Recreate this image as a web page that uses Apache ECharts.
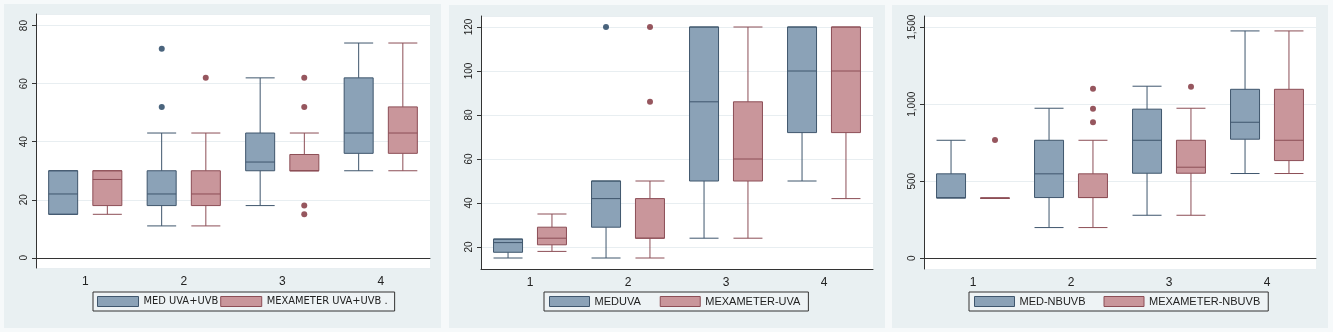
<!DOCTYPE html>
<html>
<head>
<meta charset="utf-8">
<title>MED vs Mexameter box plots</title>
<script src="https://cdn.jsdelivr.net/npm/echarts@6/dist/echarts.min.js"></script>
<style>
  html, body { margin: 0; padding: 0; background: #f6f9fa; }
  #main { width: 1333px; height: 332px; }
</style>
</head>
<body>
<div id="main"></div>
<script>
// categories on the x axis (same for all three panels)
var categories = ["1", "2", "3", "4"];

// box data: [min, Q1, median, Q3, max] per category
// panel 1 - UVA+UVB
var uvbMed = [[15, 15, 22, 30, 30], [11, 18, 22, 30, 43], [18, 30, 33, 43, 62], [30, 36, 43, 62, 74]];
var uvbMex = [[15, 18, 27, 30, 30], [11, 18, 22, 30, 43], [30, 30, 30, 35.6, 43], [30, 36, 43, 52, 74]];
var uvbMedOut = [[1, 72], [1, 52]];
var uvbMexOut = [[1, 62], [2, 62], [2, 52], [2, 18], [2, 15]];

// panel 2 - UVA
var uvaMed = [[15, 17.6, 22, 23.6, 23.6], [15, 29, 42, 50, 50], [24, 50, 86, 120, 120], [50, 72, 100, 120, 120]];
var uvaMex = [[18, 21, 24, 29, 35], [15, 24, 24, 42, 50], [24, 50, 60, 86, 120], [42, 72, 100, 120, 120]];
var uvaMedOut = [[1, 120]];
var uvaMexOut = [[1, 120], [1, 86]];

// panel 3 - NBUVB
var nbMed = [[392, 392, 392, 548, 766], [199, 394, 548, 766, 974], [279, 552, 766, 968, 1117], [550, 773, 883, 1097, 1476]];
var nbMex = [[390, 390, 390, 390, 390], [199, 394, 394, 548, 766], [279, 552, 591, 766, 974], [550, 634, 766, 1097, 1476]];
var nbMedOut = [];
var nbMexOut = [[0, 768], [1, 1100], [1, 970], [1, 883], [2, 1113]];

var names = [
  ["MED UVA+UVB", "MEXAMETER UVA+UVB ."],
  ["MEDUVA", "MEXAMETER-UVA"],
  ["MED-NBUVB", "MEXAMETER-NBUVB"]
];

var blue = { fill: "#8ba2b7", line: "#3f566d", dot: "#1d3d5c" };
var red = { fill: "#c9969b", line: "#8c4e56", dot: "#7c2c36" };
var fontMain = "'Liberation Sans', Arial, sans-serif";
var fontNarrow = "'Liberation Sans Narrow', 'DejaVu Sans Condensed', 'Liberation Sans', sans-serif";

function thousands(v) {
  return String(v).replace(/\B(?=(\d{3})+(?!\d))/g, ",");
}

var panels = [
  { grid: { left: 36, top: 14, width: 394, height: 254 }, min: -3.5, max: 84, split: 5,
    med: uvbMed, mex: uvbMex, medOut: uvbMedOut, mexOut: uvbMexOut,
    legend: { left: 93, itemWidth: 41, itemGap: 2, font: fontNarrow, padding: [4, 7, 4, 4] } },
  { grid: { left: 481, top: 16, width: 392, height: 253 }, min: 10, max: 125, split: 5,
    med: uvaMed, mex: uvaMex, medOut: uvaMedOut, mexOut: uvaMexOut,
    legend: { left: 544, itemWidth: 40, itemGap: 19, font: fontMain, padding: [4, 8, 4, 5] } },
  { grid: { left: 924, top: 16, width: 392, height: 253 }, min: -70, max: 1573, split: 3,
    med: nbMed, mex: nbMex, medOut: nbMedOut, mexOut: nbMexOut,
    legend: { left: 969, itemWidth: 40, itemGap: 18, font: fontMain, padding: [4, 8, 4, 5] } }
];

var option = {
  backgroundColor: "#f6f9fa",
  animation: false,
  graphic: [
    { type: "rect", shape: { x: 4, y: 4, width: 437, height: 324 }, style: { fill: "#e9f0f2" }, z: -10 },
    { type: "rect", shape: { x: 449, y: 5, width: 436, height: 323 }, style: { fill: "#e9f0f2" }, z: -10 },
    { type: "rect", shape: { x: 892, y: 5, width: 436, height: 323 }, style: { fill: "#e9f0f2" }, z: -10 }
  ],
  grid: [],
  xAxis: [],
  yAxis: [],
  legend: [],
  series: []
};

panels.forEach(function (p, i) {
  option.grid.push({
    left: p.grid.left, top: p.grid.top, width: p.grid.width, height: p.grid.height,
    show: true, backgroundColor: "#ffffff", borderWidth: 0
  });
  option.xAxis.push({
    type: "category",
    gridIndex: i,
    data: categories,
    axisLine: { lineStyle: { color: "#333", width: 1 } },
    axisTick: { show: false },
    axisLabel: { color: "#222", fontSize: 12, margin: 8, fontFamily: fontMain },
    splitLine: { show: false }
  });
  option.yAxis.push({
    type: "value",
    gridIndex: i,
    min: p.min,
    max: p.max,
    splitNumber: p.split,
    axisLine: { show: true, lineStyle: { color: "#333", width: 1 } },
    axisTick: { show: true, length: 4, lineStyle: { color: "#333" } },
    axisLabel: {
      rotate: 90, fontSize: 10, margin: 7, color: "#222", fontFamily: fontMain,
      showMinLabel: false, showMaxLabel: false,
      formatter: thousands
    },
    splitLine: { show: true, lineStyle: { color: "#e8eef1", width: 1 } }
  });
  option.legend.push({
    left: p.legend.left,
    top: 292,
    orient: "horizontal",
    data: [
      { name: names[i][0], itemStyle: { color: blue.fill, borderColor: blue.line, borderWidth: 1 } },
      { name: names[i][1], itemStyle: { color: red.fill, borderColor: red.line, borderWidth: 1 } }
    ],
    icon: "rect",
    itemWidth: p.legend.itemWidth,
    itemHeight: 10,
    itemGap: p.legend.itemGap,
    padding: p.legend.padding,
    borderColor: "#333",
    borderWidth: 1,
    backgroundColor: "#eef3f5",
    selectedMode: false,
    textStyle: { fontSize: 11, color: "#222", fontFamily: p.legend.font }
  });

  option.series.push({
    name: names[i][0],
    type: "boxplot",
    xAxisIndex: i,
    yAxisIndex: i,
    boxWidth: [29, 29],
    data: p.med,
    itemStyle: { color: blue.fill, borderColor: blue.line, borderWidth: 1 }
  });
  option.series.push({
    name: names[i][1],
    type: "boxplot",
    xAxisIndex: i,
    yAxisIndex: i,
    boxWidth: [29, 29],
    data: p.mex,
    itemStyle: { color: red.fill, borderColor: red.line, borderWidth: 1 }
  });
  // outliers, shifted onto their box
  option.series.push({
    name: names[i][0] + " outliers",
    type: "scatter",
    xAxisIndex: i,
    yAxisIndex: i,
    symbolSize: 6,
    symbolOffset: [-22, 0],
    data: p.medOut,
    itemStyle: { color: blue.dot }
  });
  option.series.push({
    name: names[i][1] + " outliers",
    type: "scatter",
    xAxisIndex: i,
    yAxisIndex: i,
    symbolSize: 6,
    symbolOffset: [22, 0],
    data: p.mexOut,
    itemStyle: { color: red.dot }
  });
});

var chart = echarts.init(document.getElementById("main"));
chart.setOption(option);
</script>
</body>
</html>
